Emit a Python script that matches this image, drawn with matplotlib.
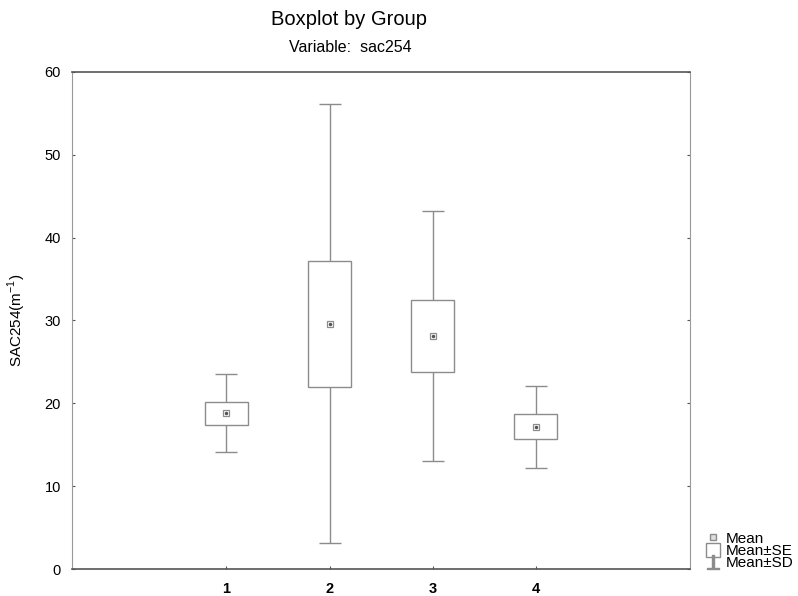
import matplotlib.pyplot as plt
from matplotlib.lines import Line2D

plt.rcParams["font.family"] = ["Liberation Sans", "DejaVu Sans"]

groups = [1, 2, 3, 4]
group_labels = ["1", "2", "3", "4"]
means = [18.8, 29.6, 28.1, 17.2]
se = [1.4, 7.6, 4.35, 1.45]
sd = [4.7, 26.5, 15.1, 4.95]

fig = plt.figure(figsize=(7.98, 5.96), dpi=100)
ax = fig.add_axes([0.0902, 0.0453, 0.7745, 0.834])

line_col = "#8c8c8c"

# Mean +/- SE boxes
se_low = [m - s for m, s in zip(means, se)]
ax.bar(groups, [2 * s for s in se], bottom=se_low, width=0.42,
       facecolor="white", edgecolor=line_col, linewidth=1.0, zorder=2)

# Mean +/- SD whiskers
ax.errorbar(groups, means, yerr=sd, fmt="none", ecolor=line_col,
            elinewidth=1.0, capsize=8, capthick=1.0, zorder=1)

# means
ax.plot(groups, means, linestyle="none", marker="s", markersize=5,
        markerfacecolor="white", markeredgecolor=line_col, markeredgewidth=0.9, zorder=3)
ax.plot(groups, means, linestyle="none", marker="o", markersize=1.5,
        color="#555555", zorder=4)

ax.set_xlim(-0.5, 5.5)
ax.set_ylim(0, 60)
ax.set_yticks([0, 10, 20, 30, 40, 50, 60])
ax.set_xticks(groups)
ax.set_xticklabels(group_labels, fontweight="bold", fontsize=10.5)
ax.tick_params(axis="y", direction="in", length=2, labelsize=10.5, right=True,
               color="#555555", pad=8)
ax.tick_params(axis="x", direction="in", length=2, pad=9, color="#555555")
for side in ["left", "right"]:
    ax.spines[side].set_color("#999999")
for side in ["top", "bottom"]:
    ax.spines[side].set_color("#555555")
    ax.spines[side].set_linewidth(1.2)

ax.set_ylabel("SAC254(m$^{\\mathregular{-1}}$)", fontsize=11, labelpad=12)

fig.text(0.437, 0.968, "Boxplot by Group", ha="center", va="center", fontsize=14.5)
fig.text(0.439, 0.921, "Variable:  sac254", ha="center", va="center", fontsize=11.5)

handles = [
    Line2D([], [], linestyle="none", marker="s", markersize=4,
           markerfacecolor="#dddddd", markeredgecolor=line_col),
    Line2D([], [], linestyle="none", marker="s", markersize=10,
           markerfacecolor="white", markeredgecolor=line_col),
    Line2D([], [], linestyle="none", marker="$\\perp$", markersize=10, color=line_col),
]
fig.legend(handles, ["Mean", "Mean\u00b1SE", "Mean\u00b1SD"], loc="lower left",
           bbox_to_anchor=(0.875, 0.03), frameon=False, fontsize=11,
           handlelength=0.9, handletextpad=0.4, labelspacing=-0.1, borderpad=0)

fig.savefig("out.png", dpi=100)
